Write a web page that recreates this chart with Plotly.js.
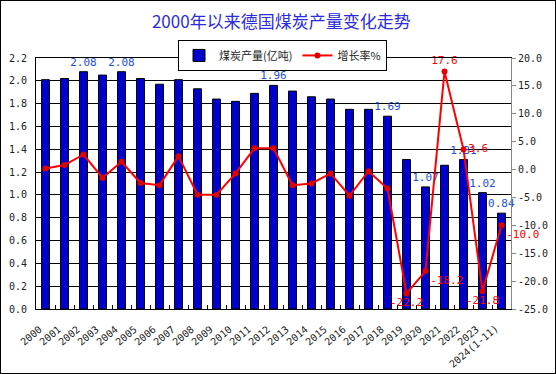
<!DOCTYPE html>
<html>
<head>
<meta charset="utf-8">
<script src="https://cdn.plot.ly/plotly-3.0.1.min.js"></script>
<style>
html,body{margin:0;padding:0;background:#fff;}
#wrap{width:556px;height:374px;box-sizing:border-box;border:1px solid #000;padding:1px;}
#chart{width:552px;height:370px;}
</style>
</head>
<body>
<div id="wrap"><div id="chart"></div></div>
<script>
const years = ['2000','2001','2002','2003','2004','2005','2006','2007','2008','2009','2010','2011','2012','2013','2014','2015','2016','2017','2018','2019','2020','2021','2022','2023','2024(1-11)'];
const production = [2.01, 2.02, 2.08, 2.05, 2.08, 2.02, 1.97, 2.01, 1.93, 1.84, 1.82, 1.89, 1.96, 1.91, 1.86, 1.84, 1.75, 1.75, 1.69, 1.31, 1.07, 1.26, 1.31, 1.02, 0.84];
const growth = [0.2, 0.8, 2.7, -1.5, 1.4, -2.4, -2.8, 2.4, -4.5, -4.5, -0.7, 3.8, 3.8, -2.8, -2.5, -0.7, -4.7, -0.3, -3.4, -22.2, -18.2, 17.6, 3.6, -21.8, -10.0];
const prodLabelYears = ['2002','2004','2012','2018','2020','2022','2023','2024(1-11)'];
const growthLabelYears = ['2019','2020','2021','2022','2023','2024(1-11)'];
const growthLabelPos = {'2019':'bottom center','2020':'bottom right','2021':'top center','2022':'middle right','2023':'bottom center','2024(1-11)':'bottom right'};
const rightTicks = [20, 15, 10, 5, 0, -5, -10, -15, -20, -25];
const seriesNames = ['煤炭产量(亿吨)', '增长率%'];
const titleText = '2000年以来德国煤炭产量变化走势';

const prodText = years.map((y,i) => prodLabelYears.includes(y) ? production[i].toFixed(2) : '');
const growthText = years.map((y,i) => growthLabelYears.includes(y) ? growth[i].toFixed(1) : '');
const growthPos = years.map(y => growthLabelPos[y] || 'top center');

const monoFont = 'DejaVu Sans Mono, Liberation Mono, monospace';

const traces = [
  {
    type: 'bar', name: seriesNames[0], x: years, y: production,
    marker: {color: '#0000cc', line: {color: '#000', width: 1}},
    text: prodText, textposition: 'outside', constraintext: 'none', cliponaxis: false,
    textfont: {family: monoFont, size: 11, color: '#1f4fd6'},
    hoverinfo: 'x+y'
  },
  {
    type: 'scatter', name: seriesNames[1], x: years, y: growth, yaxis: 'y2',
    mode: 'lines+markers+text',
    line: {color: '#ff0000', width: 2},
    marker: {color: '#e00000', size: 6},
    text: growthText, textposition: growthPos, cliponaxis: false,
    textfont: {family: monoFont, size: 11, color: '#ff0000'}
  }
];

// rotated category labels under the x axis (x given as category index)
const yearLabels = years.map((y, i) => ({
  x: i, xref: 'x', y: 0, yref: 'paper', text: y, showarrow: false,
  textangle: -40, xanchor: 'right', yanchor: 'top', xshift: 0, yshift: -13,
  borderpad: 0,
  font: {family: monoFont, size: 10, color: '#222'}
}));

const layout = {
  width: 552, height: 370,
  margin: {l: 34, r: 43, t: 56, b: 63},
  paper_bgcolor: '#fff', plot_bgcolor: '#fff',
  bargap: 0.58,
  showlegend: true,
  title: {text: titleText, xref: 'container', x: 0.506, xanchor: 'center', yref: 'container', y: 0.946, yanchor: 'middle',
          font: {family: 'Noto Sans CJK SC, sans-serif', size: 17, color: '#2b2bdb'}},
  legend: {orientation: 'h', x: 0.299, xanchor: 'left', y: 1.072, yanchor: 'top',
           bgcolor: '#fff', bordercolor: '#000', borderwidth: 1,
           font: {family: 'Noto Sans CJK SC, sans-serif', size: 11, color: '#222'},
           tracegroupgap: 0, itemwidth: 30},
  annotations: yearLabels,
  xaxis: {type: 'category', automargin: false, range: [-0.5, years.length - 0.5], autorange: false,
          showline: true, linecolor: '#000', linewidth: 1, mirror: true,
          ticks: 'inside', tickson: 'boundaries', ticklen: 4, tickcolor: '#000',
          showticklabels: false, showgrid: false, zeroline: false},
  yaxis: {automargin: false, range: [0, 2.2], autorange: false, dtick: 0.2, tick0: 0, tickformat: '.1f',
          showgrid: true, gridcolor: '#000', gridwidth: 1,
          showline: true, linecolor: '#000', zeroline: false, ticks: '',
          ticklabelstandoff: 6,
          tickfont: {family: monoFont, size: 10, color: '#222'}},
  yaxis2: {automargin: false, overlaying: 'y', side: 'right', range: [-25, 20], autorange: false,
           tickvals: rightTicks, ticktext: rightTicks.map(v => v.toFixed(1)),
           showgrid: false, zeroline: false, showline: true, linecolor: '#888',
           ticks: 'outside', ticklen: 4, tickcolor: '#888',
           tickfont: {family: monoFont, size: 10, color: '#222'}}
};

Plotly.newPlot('chart', traces, layout, {displayModeBar: false, staticPlot: true});
</script>
</body>
</html>
